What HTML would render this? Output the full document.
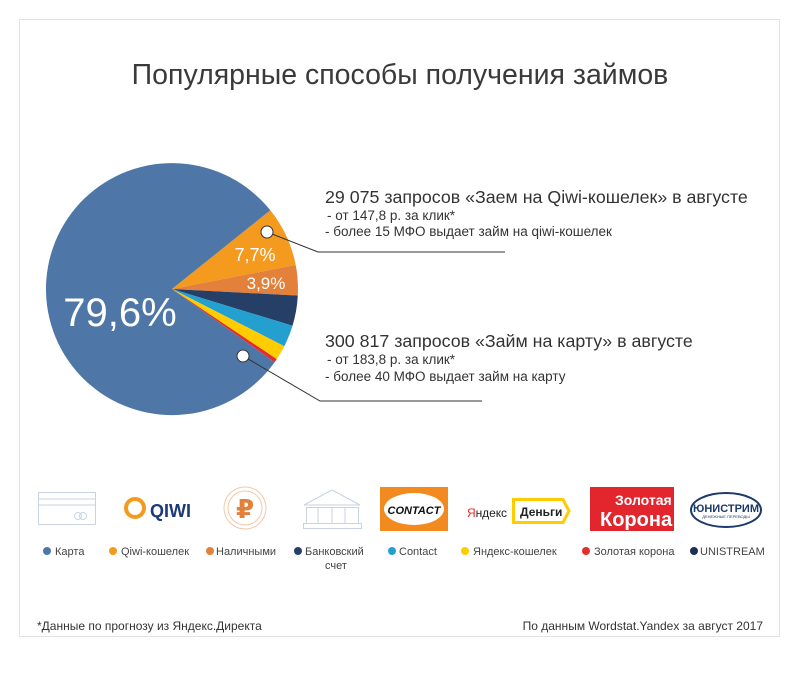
<!DOCTYPE html>
<html><head><meta charset="utf-8"><style>
body{margin:0;background:#fff;width:800px;height:671px;overflow:hidden;font-family:"Liberation Sans","DejaVu Sans",sans-serif;}
svg text{font-family:"Liberation Sans","DejaVu Sans",sans-serif;}
</style></head><body>
<svg width="800" height="671" viewBox="0 0 800 671" xmlns="http://www.w3.org/2000/svg">
<rect x="19.5" y="19.5" width="760" height="617" fill="#fff" stroke="#e3e3e3"/>
<text x="400" y="84" text-anchor="middle" font-size="28.5" fill="#3a3a3a">Популярные способы получения займов</text>
<g transform="translate(172,289)">
<path d="M0 0 L98.3 -78.7 A126 126 0 0 1 123.7 -24.0 Z" fill="#f39a1f"/>
<path d="M0 0 L123.7 -24.0 A126 126 0 0 1 125.8 6.6 Z" fill="#e3803a"/>
<path d="M0 0 L125.8 6.6 A126 126 0 0 1 120.5 36.8 Z" fill="#263f66"/>
<path d="M0 0 L120.5 36.8 A126 126 0 0 1 112.3 57.2 Z" fill="#24a0d0"/>
<path d="M0 0 L112.3 57.2 A126 126 0 0 1 104.7 70.1 Z" fill="#ffcc00"/>
<path d="M0 0 L104.7 70.1 A126 126 0 0 1 102.6 73.2 Z" fill="#e52d2d"/>
<path d="M0 0 L102.6 73.2 A126 126 0 1 1 98.3 -78.7 Z" fill="#4e77a8"/>
</g>
<text x="120" y="326" text-anchor="middle" font-size="40" fill="#fff">79,6%</text>
<text x="255" y="261" text-anchor="middle" font-size="18" fill="#fff">7,7%</text>
<text x="266" y="289" text-anchor="middle" font-size="17" fill="#fff">3,9%</text>
<polyline points="267,232 318,252 505,252" fill="none" stroke="#333" stroke-width="1"/>
<polyline points="243,356 320,401 482,401" fill="none" stroke="#333" stroke-width="1"/>
<circle cx="267" cy="232" r="6" fill="#fff" stroke="#333"/>
<circle cx="243" cy="356" r="6" fill="#fff" stroke="#333"/>
<text x="325" y="203" font-size="17.8" fill="#333">29 075 запросов «Заем на Qiwi-кошелек» в августе</text>
<text x="327" y="220" font-size="13.5" fill="#333"> - от 147,8 р. за клик*</text>
<text x="325" y="236" font-size="13.5" fill="#333">- более 15 МФО выдает займ на qiwi-кошелек</text>
<text x="325" y="347" font-size="17.8" fill="#333">300 817 запросов «Займ на карту» в августе</text>
<text x="327" y="364" font-size="13.5" fill="#333"> - от 183,8 р. за клик*</text>
<text x="325" y="381" font-size="13.5" fill="#333">- более 40 МФО выдает займ на карту</text>
<g fill="none" stroke="#c9d3e3">
<rect x="38.5" y="492.5" width="57" height="32"/><line x1="38" y1="499" x2="96" y2="499"/><line x1="38" y1="505" x2="96" y2="505"/>
<circle cx="78" cy="516" r="3.5"/><circle cx="83" cy="516" r="3.5"/>
<polygon points="304,505 332,490 360,505"/><rect x="306.5" y="507.5" width="52" height="16"/><line x1="318" y1="507" x2="318" y2="524"/><line x1="332" y1="507" x2="332" y2="524"/><line x1="345" y1="507" x2="345" y2="524"/><rect x="303.5" y="523.5" width="58" height="5"/>
</g>
<circle cx="135" cy="508" r="9" fill="none" stroke="#f39a1f" stroke-width="4"/>
<text x="150" y="517" font-size="18" font-weight="bold" fill="#1c3a7a">QIWI</text>
<circle cx="245" cy="508" r="21" fill="none" stroke="#f3c7a8"/><circle cx="245" cy="508" r="17" fill="none" stroke="#f3c7a8"/>
<text x="245" y="518" text-anchor="middle" font-size="26" font-weight="bold" fill="#e3803a">₽</text>
<rect x="380" y="487" width="68" height="44" fill="#f28a1f"/>
<ellipse cx="414" cy="509" rx="30" ry="16" fill="#fff"/>
<text x="414" y="514" text-anchor="middle" font-size="11" font-weight="bold" font-style="italic" fill="#111">CONTACT</text>
<text x="467" y="517" font-size="12" fill="#222" textLength="40"><tspan fill="#e52d2d">Я</tspan>ндекс</text>
<path d="M513.5 499.5 H563 L569 511 L563 522.5 H513.5 Z" fill="#fff" stroke="#ffcc00" stroke-width="3"/>
<text x="520" y="516" font-size="12" font-weight="bold" fill="#222">Деньги</text>
<rect x="590" y="487" width="84" height="44" fill="#e3262e"/>
<text x="615" y="505" font-size="14" font-weight="bold" fill="#fff">Золотая</text>
<text x="600" y="526" font-size="20" font-weight="bold" fill="#fff">Корона</text>
<ellipse cx="726" cy="510" rx="35" ry="17" fill="none" stroke="#1c3a6a" stroke-width="2"/>
<text x="726" y="512" text-anchor="middle" font-size="11" font-weight="bold" fill="#1c3a6a">ЮНИСТРИМ</text>
<text x="726" y="518" text-anchor="middle" font-size="4" fill="#1c3a6a">ДЕНЕЖНЫЕ ПЕРЕВОДЫ</text>
<g font-size="11" fill="#444">
<circle cx="47" cy="551" r="4" fill="#4e77a8"/><text x="55" y="555">Карта</text>
<circle cx="113" cy="551" r="4" fill="#f39a1f"/><text x="121" y="555">Qiwi-кошелек</text>
<circle cx="210" cy="551" r="4" fill="#e3803a"/><text x="216" y="555">Наличными</text>
<circle cx="298" cy="551" r="4" fill="#263f66"/><text x="305" y="555">Банковский</text><text x="325" y="569">счет</text>
<circle cx="392" cy="551" r="4" fill="#24a0d0"/><text x="399" y="555">Contact</text>
<circle cx="465" cy="551" r="4" fill="#ffcc00"/><text x="473" y="555">Яндекс-кошелек</text>
<circle cx="586" cy="551" r="4" fill="#e52d2d"/><text x="594" y="555">Золотая корона</text>
<circle cx="694" cy="551" r="4" fill="#1c3055"/><text x="700" y="555">UNISTREAM</text>
</g>
<text x="37" y="630" font-size="12" fill="#333">*Данные по прогнозу из Яндекс.Директа</text>
<text x="763" y="630" text-anchor="end" font-size="12" fill="#333">По данным Wordstat.Yandex за август 2017</text>
</svg>
</body></html>
